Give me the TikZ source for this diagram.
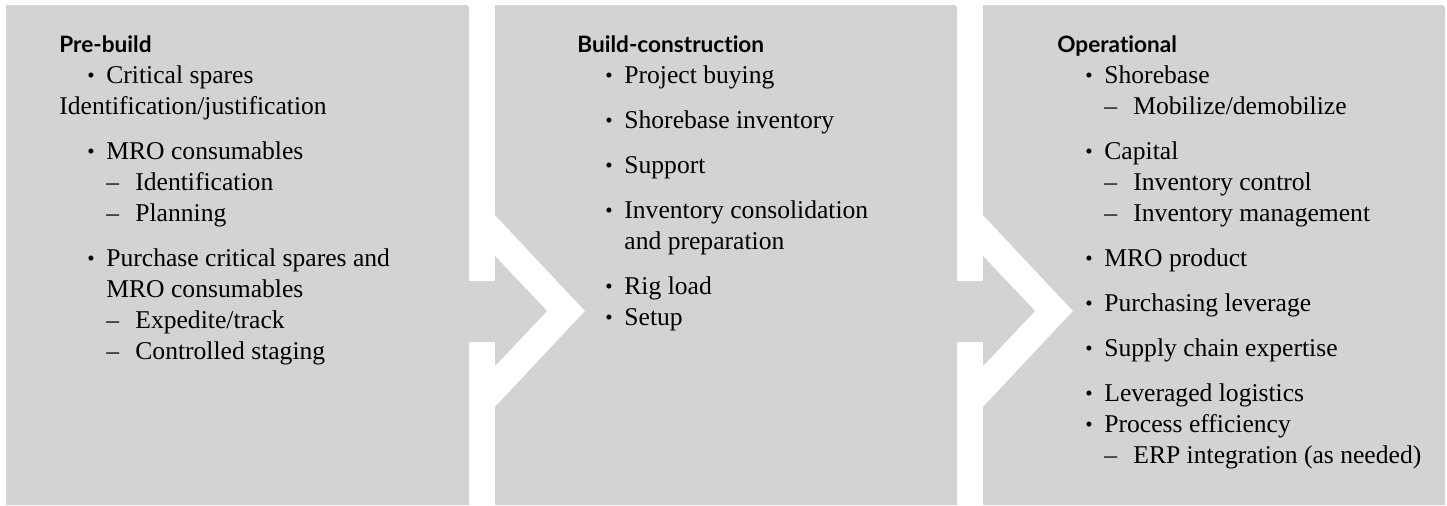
\documentclass[tikz,border=0pt]{standalone}
\usepackage{fontspec}
\setmainfont{Liberation Serif}
\newfontfamily\headfont[Ligatures={NoCommon}]{Lato}
\usetikzlibrary{positioning}

\definecolor{panelgray}{RGB}{209,211,212}
\newdimen\px \px=0.5pt
% list lines: bullet, dash and wrapped line
\newcommand{\bul}{\hspace*{28\px}\makebox[19\px][l]{\raisebox{0.4pt}{\fontsize{10.5}{10}\selectfont\textbullet}}}
\newcommand{\dsh}{\hspace*{47\px}\makebox[29\px][l]{--}}
\newcommand{\cnt}{\hspace*{47\px}}
\newcommand{\phasehead}[1]{{\headfont\bfseries\fontsize{11.3}{15.5}\selectfont #1}}

\begin{document}
\begin{tikzpicture}[
    x=0.5pt, y=-0.5pt,
    phase/.style = {fill=panelgray},
    phasetext/.style = {anchor=base west, inner sep=0pt,
                        font=\fontsize{12.8}{15.5}\selectfont}
]
    \useasboundingbox (0,0) rectangle (1447,505);

    % panels with chevrons
    \fill[phase] (6,505) -- (6,5) -- (462,5) .. controls (469,5) .. (469,12)
        -- (469,281) -- (495,281) -- (495,256) -- (547,311) -- (495,366)
        -- (495,342) -- (469,342) -- (469,505) -- cycle;
    \fill[phase] (495,505) -- (495,407) -- (585,311) -- (495,215) -- (495,5)
        -- (950,5) .. controls (957,5) .. (957,12)
        -- (957,281) -- (983,281) -- (983,256) -- (1035,311) -- (983,366)
        -- (983,342) -- (957,342) -- (957,505) -- cycle;
    \fill[phase] (983,505) -- (983,407) -- (1073,311) -- (983,215) -- (983,5)
        -- (1438,5) .. controls (1445,5) .. (1445,12) -- (1445,505) -- cycle;

    \node[phasetext] (pre) at (59,52) {\begin{minipage}[t]{400\px}
        \phasehead{Pre-build}\\
        \bul Critical spares\\
        Identification/justification\\[7pt]
        \bul MRO consumables\\
        \dsh Identification\\
        \dsh Planning\\[7pt]
        \bul Purchase critical spares and\\
        \cnt MRO consumables\\
        \dsh Expedite/track\\
        \dsh Controlled staging
    \end{minipage}};

    \node[phasetext] (build) at (577,52) {\begin{minipage}[t]{370\px}
        \phasehead{Build-construction}\\
        \bul Project buying\\[7pt]
        \bul Shorebase inventory\\[7pt]
        \bul Support\\[7pt]
        \bul Inventory consolidation\\
        \cnt and preparation\\[7pt]
        \bul Rig load\\
        \bul Setup
    \end{minipage}};

    \node[phasetext] (oper) at (1057,52) {\begin{minipage}[t]{380\px}
        \phasehead{Operational}\\
        \bul Shorebase\\
        \dsh Mobilize/demobilize\\[7pt]
        \bul Capital\\
        \dsh Inventory control\\
        \dsh Inventory management\\[7pt]
        \bul MRO product\\[7pt]
        \bul Purchasing leverage\\[7pt]
        \bul Supply chain expertise\\[7pt]
        \bul Leveraged logistics\\
        \bul Process efficiency\\
        \dsh ERP integration (as needed)
    \end{minipage}};

\end{tikzpicture}
\end{document}
